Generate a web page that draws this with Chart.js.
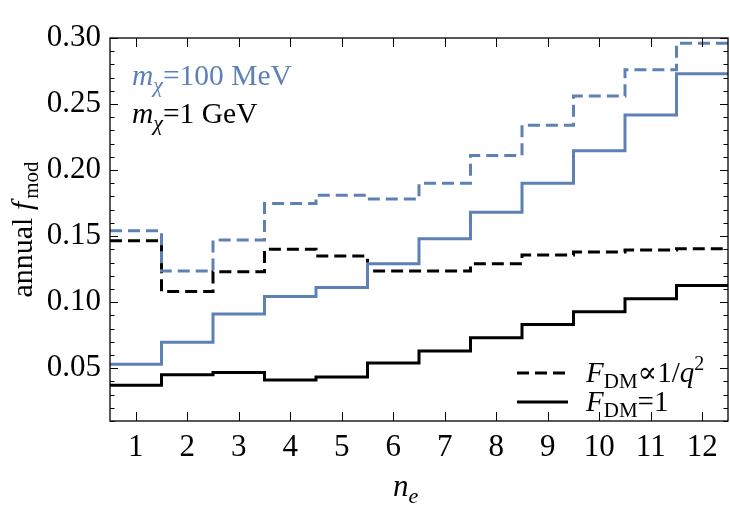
<!DOCTYPE html>
<html>
<head>
<meta charset="utf-8">
<script src="https://cdn.jsdelivr.net/npm/chart.js@4/dist/chart.umd.min.js"></script>
<style>
html,body{margin:0;padding:0;background:#fff;}
#wrap{width:730px;height:509px;}
</style>
</head>
<body>
<div id="wrap"><canvas id="c" width="730" height="509"></canvas></div>
<script>
// ---- data ----
const bins = [1,2,3,4,5,6,7,8,9,10,11,12];           // n_e categories
const xTicks = [1,2,3,4,5,6,7,8,9,10,11,12];
const yTicks = [0.05,0.10,0.15,0.20,0.25,0.30];
const mev100_q2 = [0.154,0.1235,0.147,0.1747,0.181,0.178,0.190,0.211,0.234,0.256,0.276,0.296]; // blue dashed
const mev100_f1 = [0.053,0.0697,0.091,0.1043,0.111,0.129,0.148,0.168,0.190,0.2146,0.2417,0.273]; // blue solid
const gev1_q2   = [0.1465,0.108,0.123,0.140,0.135,0.1235,0.1235,0.129,0.1356,0.138,0.1394,0.1404]; // black dashed
const gev1_f1   = [0.037,0.045,0.0467,0.041,0.0434,0.054,0.063,0.073,0.083,0.0927,0.1025,0.1126]; // black solid

const BLUE = '#5e81b5';
const SERIF = '"Liberation Serif","DejaVu Serif",serif';

// step data: each bin drawn from n-0.5 to n+0.5
function stepData(vals){
  const pts = bins.map((b,i)=>({x:b-0.5,y:vals[i]}));
  pts.push({x:bins[bins.length-1]+0.5,y:vals[vals.length-1]});
  return pts;
}
function ds(vals,color,dashed){
  return {data:stepData(vals),borderColor:color,borderWidth:3,borderDash:dashed?[12,6]:[],
          stepped:true,pointRadius:0,fill:false,tension:0};
}

// frame, inward ticks, labels
const decor = {
  id:'decor',
  afterDraw(chart){
    const ctx = chart.ctx, a = chart.chartArea, xs = chart.scales.x, ys = chart.scales.y;
    ctx.save();
    ctx.strokeStyle='#000'; ctx.lineWidth=1.3;
    ctx.strokeRect(a.left,a.top,a.right-a.left,a.bottom-a.top);
    ctx.lineWidth=1;
    ctx.beginPath();
    xTicks.forEach(v=>{
      const px = Math.round(xs.getPixelForValue(v))+0.5;
      ctx.moveTo(px,a.bottom); ctx.lineTo(px,a.bottom-9);
      ctx.moveTo(px,a.top); ctx.lineTo(px,a.top+9);
    });
    for(let k=1;k<=30;k++){
      const v = k/100;
      if(v<ys.min-1e-9||v>ys.max+1e-9) continue;
      const major = k%5===0;
      const L = major?8:4.5;
      const py = Math.round(ys.getPixelForValue(v))+0.5;
      ctx.moveTo(a.left,py); ctx.lineTo(a.left+L,py);
      ctx.moveTo(a.right,py); ctx.lineTo(a.right-L,py);
    }
    ctx.stroke();

    // helpers for sub/superscript text
    function runs(x,y,parts,color){
      ctx.fillStyle=color; ctx.textBaseline='alphabetic'; ctx.textAlign='left';
      parts.forEach(p=>{
        ctx.font=(p.it?'italic ':'')+p.s+'px '+SERIF;
        ctx.fillText(p.t,x,y+(p.dy||0));
        x+=ctx.measureText(p.t).width+(p.gap||0);
      });
      return x;
    }
    // top-left labels
    runs(a.left+22,a.top+47,[{t:'m',it:1,s:29.5},{t:'\u03c7',it:1,s:22,dy:7},{t:'=100 MeV',s:29.5}],BLUE);
    runs(a.left+22,a.top+85,[{t:'m',it:1,s:29.5},{t:'\u03c7',it:1,s:22,dy:7},{t:'=1 GeV',s:29.5}],'#000');

    // bottom-right legend
    ctx.strokeStyle='#000'; ctx.lineWidth=3;
    ctx.setLineDash([12,6]);
    ctx.beginPath(); ctx.moveTo(517,373); ctx.lineTo(565,373); ctx.stroke();
    ctx.setLineDash([]);
    ctx.beginPath(); ctx.moveTo(517,402); ctx.lineTo(568,402); ctx.stroke();
    runs(586,382,[{t:'F',it:1,s:29},{t:'DM',s:21,dy:6},{t:'\u221d1/',s:29},{t:'q',it:1,s:29},{t:'2',s:20,dy:-12}],'#000');
    runs(586,411,[{t:'F',it:1,s:29},{t:'DM',s:21,dy:6},{t:'=1',s:29}],'#000');

    // axis titles
    runs(393,496,[{t:'n',it:1,s:31},{t:'e',it:1,s:22,dy:7}],'#000');
    ctx.save();
    ctx.translate(32,(a.top+a.bottom)/2);
    ctx.rotate(-Math.PI/2);
    ctx.font='30px '+SERIF;
    const w1 = ctx.measureText('annual ').width;
    ctx.font='italic 30px '+SERIF;
    const w2 = ctx.measureText('f').width+3;
    ctx.font='21px '+SERIF;
    const w3 = ctx.measureText('mod').width;
    const tot = w1+w2+w3;
    runs(-tot/2,0,[{t:'annual ',s:30},{t:'f',it:1,s:30,gap:3},{t:'mod',s:21,dy:6}],'#000');
    ctx.restore();
    ctx.restore();
  }
};

new Chart(document.getElementById('c'),{
  type:'line',
  data:{datasets:[ds(mev100_q2,BLUE,true),ds(mev100_f1,BLUE,false),ds(gev1_q2,'#000',true),ds(gev1_f1,'#000',false)]},
  options:{
    responsive:false,animation:false,
    layout:{padding:{top:38,right:2,left:0,bottom:0}},
    plugins:{legend:{display:false},tooltip:{enabled:false}},
    scales:{
      x:{type:'linear',min:0.5,max:12.5,
         afterFit(s){s.height=88;},
         afterBuildTicks(s){s.ticks=xTicks.map(v=>({value:v}));},
         grid:{display:false,drawTicks:false},border:{display:false},
         ticks:{padding:8,color:'#000',font:{family:SERIF,size:31},maxRotation:0,autoSkip:false,callback:v=>String(v)}},
      y:{type:'linear',min:0.01,max:0.30,
         afterFit(s){s.width=110;},
         afterBuildTicks(s){s.ticks=yTicks.map(v=>({value:v}));},
         grid:{display:false,drawTicks:false},border:{display:false},
         ticks:{padding:9,color:'#000',font:{family:SERIF,size:31},autoSkip:false,callback:v=>v.toFixed(2)}}
    }
  },
  plugins:[decor]
});
</script>
</body>
</html>
